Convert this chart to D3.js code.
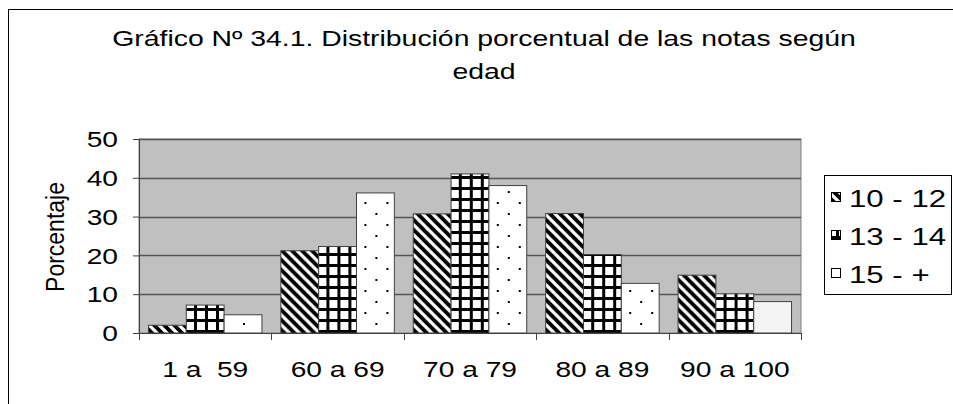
<!DOCTYPE html>
<html>
<head>
<meta charset="utf-8">
<script src="https://cdn.jsdelivr.net/npm/d3@7"></script>
<style>
  html, body { margin: 0; padding: 0; background: #fff; }
  svg { display: block; }
  text { font-family: "Liberation Sans", Arial, sans-serif; fill: #000; }
</style>
</head>
<body>
<svg id="chart" width="953" height="404"></svg>
<script>
// Score bands (x axis) and age groups (series)
const categories = ["1 a  59", "60 a 69", "70 a 79", "80 a 89", "90 a 100"];
const seriesNames = ["10 - 12", "13 - 14", "15 - +"];
const age10to12 = [2, 21.2, 30.7, 30.8, 14.9];
const age13to14 = [7.2, 22.3, 41, 20.2, 10.1];
const age15plus = [4.7, 36.1, 38, 12.8, 8.1];
const yTicks = [0, 10, 20, 30, 40, 50];

const seriesValues = [age10to12, age13to14, age15plus];
const titleLines = ["Gráfico Nº 34.1. Distribución porcentual de las notas según", "edad"];
const yLabel = "Porcentaje";

const svg = d3.select("#chart");
const SX = 1.28; // wide lettering used throughout the chart

const plot = { left: 139, right: 801, top: 139, bottom: 333 };

// Fill patterns: diagonal stripes, bold grid, sparse dots
const defs = svg.append("defs");
const diag = defs.append("pattern").attr("id", "pDiag")
  .attr("patternUnits", "userSpaceOnUse").attr("width", 10).attr("height", 10);
diag.append("rect").attr("width", 10).attr("height", 10).attr("fill", "#fff");
diag.append("path").attr("d", "M-5,-5 L15,15 M-5,5 L5,15 M5,-5 L15,5")
  .attr("stroke", "#000").attr("stroke-width", 3.8);

const grid = defs.append("pattern").attr("id", "pGrid")
  .attr("patternUnits", "userSpaceOnUse").attr("width", 11).attr("height", 11);
grid.append("rect").attr("width", 11).attr("height", 11).attr("fill", "#fff");
grid.append("rect").attr("x", 0).attr("y", 0).attr("width", 3).attr("height", 11).attr("fill", "#000");
grid.append("rect").attr("x", 0).attr("y", 0).attr("width", 11).attr("height", 3).attr("fill", "#000");

const dots = defs.append("pattern").attr("id", "pDots")
  .attr("patternUnits", "userSpaceOnUse").attr("width", 22).attr("height", 22);
dots.append("rect").attr("width", 22).attr("height", 22).attr("fill", "#fff");
dots.append("rect").attr("x", 5).attr("y", 4).attr("width", 2).attr("height", 2).attr("fill", "#000");
dots.append("rect").attr("x", 16).attr("y", 15).attr("width", 2).attr("height", 2).attr("fill", "#000");

const fills = ["url(#pDiag)", "url(#pGrid)", "url(#pDots)"];
const flatFill = "#f4f4f4";

// Outer chart frame
svg.append("rect").attr("x", 8.5).attr("y", 9.5).attr("width", 1000).attr("height", 500)
  .attr("fill", "none").attr("stroke", "#000").attr("stroke-width", 1);

// Title
const title = svg.append("text").attr("text-anchor", "middle")
  .attr("transform", `translate(484,0) scale(1.29,1)`)
  .style("font-size", "22px");
titleLines.forEach((t, i) => {
  title.append("tspan").attr("x", 0).attr("y", 46 + i * 33).text(t);
});

// Scales
const x0 = d3.scaleBand().domain(categories).range([plot.left, plot.right]).paddingInner(0).paddingOuter(0);
const x1 = d3.scaleBand().domain(seriesNames).range([0, x0.bandwidth()]).paddingInner(0).paddingOuter(0.25);
const y = d3.scaleLinear().domain([0, 50]).range([plot.bottom, plot.top]);

// Plot area
svg.append("rect").attr("x", plot.left).attr("y", plot.top)
  .attr("width", plot.right - plot.left).attr("height", plot.bottom - plot.top)
  .attr("fill", "#c0c0c0").attr("stroke", "#808080");

// Gridlines
svg.append("g").selectAll("line").data(yTicks.filter(d => d > 0)).join("line")
  .attr("x1", plot.left).attr("x2", plot.right)
  .attr("y1", d => Math.round(y(d)) + 0.5).attr("y2", d => Math.round(y(d)) + 0.5)
  .attr("stroke", "#555").attr("stroke-width", 1.5);

// Bars
const groups = svg.append("g").selectAll("g").data(categories).join("g")
  .attr("transform", d => `translate(${x0(d)},0)`);
groups.selectAll("rect")
  .data((c, ci) => seriesNames.map((s, si) => ({ s, si, ci, v: seriesValues[si][ci] })))
  .join("rect")
  .attr("x", d => x1(d.s))
  .attr("y", d => y(d.v))
  .attr("width", x1.bandwidth())
  .attr("height", d => y(0) - y(d.v))
  .attr("fill", d => (d.si === 2 && d.ci === categories.length - 1) ? flatFill : fills[d.si])
  .attr("stroke", "#404040").attr("stroke-width", 1);

// Y axis
const yAxis = svg.append("g").attr("transform", `translate(${plot.left},0)`)
  .call(d3.axisLeft(y).tickValues(yTicks).tickSize(6).tickFormat(d3.format("d")));
yAxis.select(".domain").attr("stroke", "#404040");
yAxis.selectAll(".tick line").attr("stroke", "#404040");
yAxis.selectAll(".tick text")
  .attr("x", 0).attr("dy", "0.35em")
  .attr("transform", `translate(-21,0) scale(${SX},1)`)
  .attr("text-anchor", "end")
  .style("font-size", "22px").style("font-family", "Liberation Sans, Arial, sans-serif").attr("fill", "#000");

// X axis with ticks at category boundaries
const xAxis = svg.append("g").attr("transform", `translate(0,${plot.bottom})`);
xAxis.append("line").attr("x1", plot.left).attr("x2", plot.right).attr("y1", 0.5).attr("y2", 0.5)
  .attr("stroke", "#404040");
const bounds = categories.map(c => x0(c)).concat([plot.right]);
xAxis.selectAll("line.tk").data(bounds).join("line").attr("class", "tk")
  .attr("x1", d => Math.round(d) + 0.5).attr("x2", d => Math.round(d) + 0.5)
  .attr("y1", 0).attr("y2", 7).attr("stroke", "#404040");
xAxis.selectAll("text").data(categories).join("text")
  .attr("text-anchor", "middle")
  .attr("transform", d => `translate(${x0(d) + x0.bandwidth() / 2},44) scale(${SX},1)`)
  .style("font-size", "22px")
  .style("white-space", "pre")
  .text(d => d);

// Y axis title
svg.append("text").attr("text-anchor", "middle")
  .attr("transform", `translate(64,237) rotate(-90) scale(1,1.15)`)
  .style("font-size", "23px").text(yLabel);

// Legend
const legend = svg.append("g");
legend.append("rect").attr("x", 824.5).attr("y", 175.5).attr("width", 127).attr("height", 119)
  .attr("fill", "#fff").attr("stroke", "#000");
const rowY = d3.scalePoint().domain(seriesNames).range([198, 274]);
const item = legend.selectAll("g.item").data(seriesNames).join("g").attr("class", "item")
  .attr("transform", d => `translate(0,${rowY(d)})`);
item.append("rect").attr("x", 831.5).attr("y", -5.5).attr("width", 9).attr("height", 9)
  .attr("fill", (d, i) => fills[i]).attr("stroke", "#000");
item.append("text").attr("transform", `translate(849,0) scale(1.3,1)`)
  .attr("dy", "0.36em").style("font-size", "24px").text(d => d);
</script>
</body>
</html>
